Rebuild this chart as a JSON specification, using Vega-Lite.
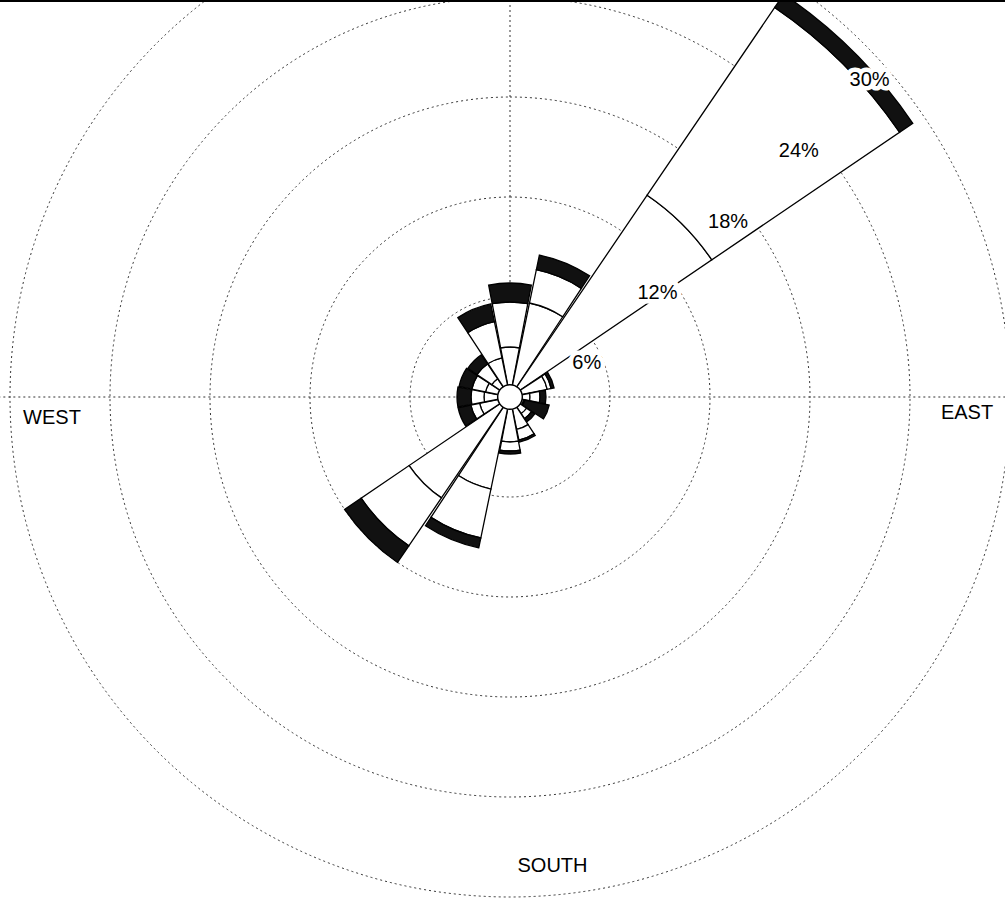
{
  "$schema": "https://vega.github.io/schema/vega-lite/v6.json",
  "width": 990,
  "height": 794,
  "autosize": "none",
  "padding": {"left": 15, "top": 0, "right": 0, "bottom": 104},
  "background": "white",
  "config": {"view": {"stroke": null}},
  "datasets": {
    "rose": [
      {"dir": 0, "cls": 1, "freq": 3.0}, {"dir": 0, "cls": 2, "freq": 2.7}, {"dir": 0, "cls": 3, "freq": 1.14},
      {"dir": 22.5, "cls": 1, "freq": 5.76}, {"dir": 22.5, "cls": 2, "freq": 2.04}, {"dir": 22.5, "cls": 3, "freq": 0.9},
      {"dir": 45, "cls": 1, "freq": 14.64}, {"dir": 45, "cls": 2, "freq": 13.62}, {"dir": 45, "cls": 3, "freq": 0.96},
      {"dir": 67.5, "cls": 1, "freq": 2.28}, {"dir": 67.5, "cls": 2, "freq": 0.24}, {"dir": 67.5, "cls": 3, "freq": 0.18},
      {"dir": 90, "cls": 1, "freq": 1.2}, {"dir": 90, "cls": 2, "freq": 0.6}, {"dir": 90, "cls": 3, "freq": 0.36},
      {"dir": 112.5, "cls": 1, "freq": 0.84}, {"dir": 112.5, "cls": 2, "freq": 0.06}, {"dir": 112.5, "cls": 3, "freq": 1.5},
      {"dir": 135, "cls": 1, "freq": 1.2}, {"dir": 135, "cls": 2, "freq": 0.36}, {"dir": 135, "cls": 3, "freq": 0.24},
      {"dir": 157.5, "cls": 1, "freq": 1.98}, {"dir": 157.5, "cls": 2, "freq": 0.66}, {"dir": 157.5, "cls": 3, "freq": 0.12},
      {"dir": 180, "cls": 1, "freq": 2.7}, {"dir": 180, "cls": 2, "freq": 0.54}, {"dir": 180, "cls": 3, "freq": 0.18},
      {"dir": 202.5, "cls": 1, "freq": 5.64}, {"dir": 202.5, "cls": 2, "freq": 3.0}, {"dir": 202.5, "cls": 3, "freq": 0.6},
      {"dir": 225, "cls": 1, "freq": 7.32}, {"dir": 225, "cls": 2, "freq": 3.48}, {"dir": 225, "cls": 3, "freq": 1.2},
      {"dir": 247.5, "cls": 1, "freq": 1.86}, {"dir": 247.5, "cls": 2, "freq": 0.54}, {"dir": 247.5, "cls": 3, "freq": 0.78},
      {"dir": 270, "cls": 1, "freq": 1.56}, {"dir": 270, "cls": 2, "freq": 0.78}, {"dir": 270, "cls": 3, "freq": 0.84},
      {"dir": 292.5, "cls": 1, "freq": 1.5}, {"dir": 292.5, "cls": 2, "freq": 0.84}, {"dir": 292.5, "cls": 3, "freq": 0.78},
      {"dir": 315, "cls": 1, "freq": 1.32}, {"dir": 315, "cls": 2, "freq": 1.08}, {"dir": 315, "cls": 3, "freq": 0.66},
      {"dir": 337.5, "cls": 1, "freq": 2.4}, {"dir": 337.5, "cls": 2, "freq": 2.22}, {"dir": 337.5, "cls": 3, "freq": 1.08}
    ],
    "rings": [
      {"ring": 6, "label": "6%"}, {"ring": 12, "label": "12%"}, {"ring": 18, "label": "18%"},
      {"ring": 24, "label": "24%"}, {"ring": 30, "label": "30%"}
    ],
    "spokes": [
      {"xa": -31, "xb": 31, "ya": 0, "yb": 0},
      {"xa": 0, "xb": 0, "ya": 0, "yb": 31}
    ],
    "compass": [
      {"name": "WEST", "px": -27.48, "py": -1.23},
      {"name": "EAST", "px": 27.42, "py": -0.96},
      {"name": "SOUTH", "px": 2.55, "py": -28.11}
    ],
    "frame": [{"xa": -31, "xb": 31, "ya": 23.76}],
    "calm": [{"r": 0.74}]
  },
  "layer": [
    {
      "data": {"name": "spokes"},
      "mark": {"type": "rule", "stroke": "#333333", "strokeDash": [2, 3], "strokeWidth": 1},
      "encoding": {
        "x": {"field": "xa", "type": "quantitative", "scale": {"domain": [-29.7, 29.7], "nice": false, "zero": false}, "axis": null},
        "x2": {"field": "xb"},
        "y": {"field": "ya", "type": "quantitative", "scale": {"domain": [-23.82, 23.82], "nice": false, "zero": false}, "axis": null},
        "y2": {"field": "yb"}
      }
    },
    {
      "data": {"name": "rings"},
      "mark": {"type": "arc", "filled": false, "stroke": "#333333", "strokeDash": [2, 3], "strokeWidth": 1},
      "encoding": {
        "theta": {"datum": 0, "type": "quantitative", "scale": {"type": "linear", "domain": [0, 360], "range": [0, 6.283185307179586]}},
        "theta2": {"datum": 360},
        "radius": {"field": "ring", "type": "quantitative", "stack": null, "scale": {"type": "linear", "domain": [0, 30], "range": [0, 500], "zero": true, "nice": false}}
      }
    },
    {
      "data": {"name": "rose"},
      "transform": [
        {"window": [{"op": "sum", "field": "freq", "as": "hi"}], "groupby": ["dir"], "sort": [{"field": "cls"}], "frame": [null, 0]},
        {"calculate": "datum.hi - datum.freq", "as": "lo"},
        {"calculate": "datum.dir - 10.8", "as": "t0"},
        {"calculate": "datum.dir + 10.8", "as": "t1"}
      ],
      "mark": {"type": "arc", "stroke": "#000000", "strokeWidth": 1.3, "fillOpacity": 1},
      "encoding": {
        "theta": {"field": "t0", "type": "quantitative", "scale": {"type": "linear", "domain": [0, 360], "range": [0, 6.283185307179586]}},
        "theta2": {"field": "t1"},
        "radius": {"field": "hi", "type": "quantitative", "stack": null, "scale": {"type": "linear", "domain": [0, 30], "range": [0, 500], "zero": true, "nice": false}},
        "radius2": {"field": "lo"},
        "color": {"field": "cls", "type": "nominal", "scale": {"domain": [1, 2, 3], "range": ["#ffffff", "#ffffff", "#111111"]}, "legend": null}
      }
    },
    {
      "data": {"name": "calm"},
      "mark": {"type": "arc", "fill": "#ffffff", "stroke": "#000000", "strokeWidth": 1.5},
      "encoding": {
        "theta": {"datum": 0, "type": "quantitative", "scale": {"type": "linear", "domain": [0, 360], "range": [0, 6.283185307179586]}},
        "theta2": {"datum": 360},
        "radius": {"field": "r", "type": "quantitative", "stack": null, "scale": {"type": "linear", "domain": [0, 30], "range": [0, 500], "zero": true, "nice": false}}
      }
    },
    {
      "data": {"name": "rings"},
      "mark": {"type": "text", "font": "Liberation Sans", "fontSize": 20, "align": "center", "baseline": "middle", "dx": 6, "dy": 37, "fill": "#ffffff", "stroke": "#ffffff", "strokeWidth": 9, "strokeJoin": "round"},
      "encoding": {
        "theta": {"datum": 45, "type": "quantitative", "scale": {"type": "linear", "domain": [0, 360], "range": [0, 6.283185307179586]}},
        "radius": {"field": "ring", "type": "quantitative", "stack": null, "scale": {"type": "linear", "domain": [0, 30], "range": [0, 500], "zero": true, "nice": false}},
        "text": {"field": "label"}
      }
    },
    {
      "data": {"name": "rings"},
      "mark": {"type": "text", "font": "Liberation Sans", "fontSize": 20, "align": "center", "baseline": "middle", "dx": 6, "dy": 37, "fill": "#000000"},
      "encoding": {
        "theta": {"datum": 45, "type": "quantitative", "scale": {"type": "linear", "domain": [0, 360], "range": [0, 6.283185307179586]}},
        "radius": {"field": "ring", "type": "quantitative", "stack": null, "scale": {"type": "linear", "domain": [0, 30], "range": [0, 500], "zero": true, "nice": false}},
        "text": {"field": "label"}
      }
    },
    {
      "data": {"name": "compass"},
      "mark": {"type": "text", "font": "Liberation Sans", "fontSize": 20, "align": "center", "baseline": "middle", "fill": "#000000"},
      "encoding": {
        "x": {"field": "px", "type": "quantitative", "scale": {"domain": [-29.7, 29.7], "nice": false, "zero": false}, "axis": null},
        "y": {"field": "py", "type": "quantitative", "scale": {"domain": [-23.82, 23.82], "nice": false, "zero": false}, "axis": null},
        "text": {"field": "name"}
      }
    },
    {
      "data": {"name": "frame"},
      "mark": {"type": "rule", "stroke": "#000000", "strokeWidth": 2},
      "encoding": {
        "x": {"field": "xa", "type": "quantitative", "scale": {"domain": [-29.7, 29.7], "nice": false, "zero": false}, "axis": null},
        "x2": {"field": "xb"},
        "y": {"field": "ya", "type": "quantitative", "scale": {"domain": [-23.82, 23.82], "nice": false, "zero": false}, "axis": null}
      }
    }
  ]
}
